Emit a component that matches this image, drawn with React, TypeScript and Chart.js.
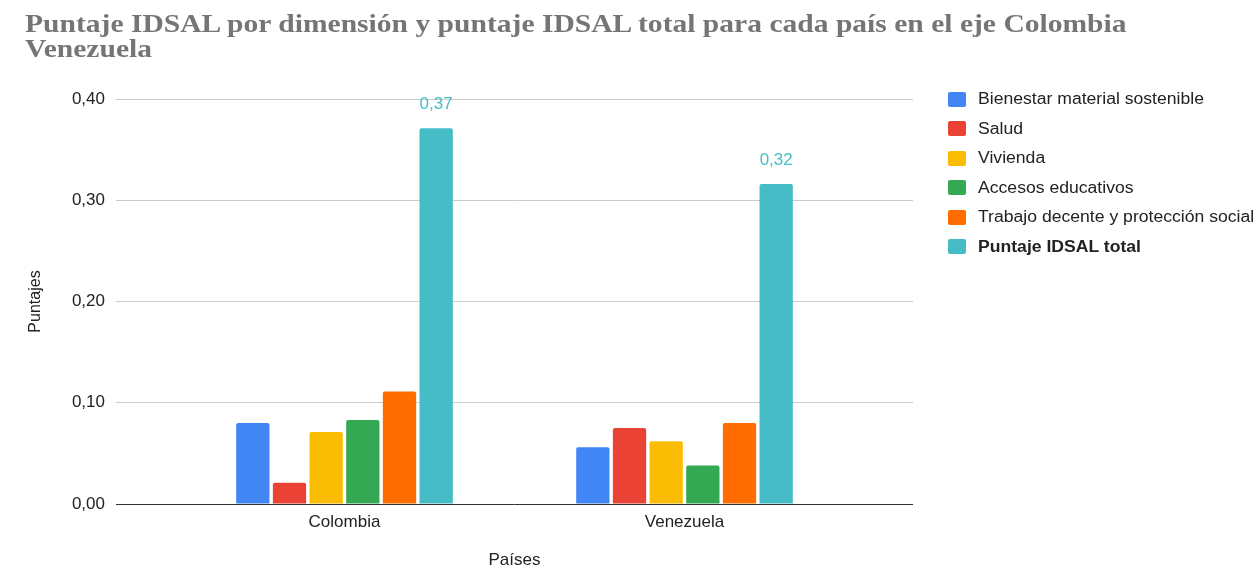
import React, { useEffect, useRef } from "react";
import { Chart, registerables } from "chart.js";

Chart.register(...registerables);

const TITLE_LINES = [
  "Puntaje IDSAL por dimensión y puntaje IDSAL total para cada país en el eje Colombia",
  "Venezuela",
];
const countries = ["Colombia", "Venezuela"];
const seriesNames = [
  "Bienestar material sostenible",
  "Salud",
  "Vivienda",
  "Accesos educativos",
  "Trabajo decente y protección social",
  "Puntaje IDSAL total",
];
const seriesColors = ["#4285F4", "#EA4335", "#FBBC04", "#34A853", "#FF6D01", "#46BDC6"];
const bienestar = [0.080, 0.056];
const salud = [0.021, 0.075];
const vivienda = [0.071, 0.062];
const accesos = [0.083, 0.038];
const trabajo = [0.111, 0.080];
const total = [0.371, 0.316];
const seriesValues = [bienestar, salud, vivienda, accesos, trabajo, total];
const yTicks = [0, 0.1, 0.2, 0.3, 0.4];
const yAxisTitle = "Puntajes";
const xAxisTitle = "Países";

const fmt = (v: number) => v.toFixed(2).replace(".", ",");
const FONT = "'Liberation Sans', Arial, sans-serif";

const totalLabels = {
  id: "totalLabels",
  afterDatasetsDraw(chart: any) {
    const ctx = chart.ctx;
    const idx = seriesValues.length - 1;
    const meta = chart.getDatasetMeta(idx);
    ctx.save();
    ctx.font = `17px ${FONT}`;
    ctx.fillStyle = seriesColors[idx];
    ctx.textAlign = "center";
    ctx.textBaseline = "middle";
    meta.data.forEach((el: any, i: number) => {
      ctx.fillText(fmt(seriesValues[idx][i]), el.x, el.y - 24);
    });
    ctx.restore();
  },
};

export default function App() {
  const ref = useRef<HTMLCanvasElement | null>(null);
  useEffect(() => {
    if (!ref.current) return;
    const chart = new Chart(ref.current, {
      type: "bar",
      data: {
        datasets: seriesNames.map((name, s) => ({
          label: name,
          data: countries.map((_, i) => ({ x: i, y: seriesValues[s][i] })),
          backgroundColor: seriesColors[s],
          borderRadius: { topLeft: 2, topRight: 2, bottomLeft: 0, bottomRight: 0 },
          borderSkipped: "bottom",
          categoryPercentage: 0.647,
          barPercentage: 0.908,
        })),
      },
      options: {
        responsive: false,
        animation: false,
        devicePixelRatio: 1,
        layout: { padding: { top: 99, right: 346, bottom: 0, left: 0 } },
        plugins: {
          legend: { display: false },
          title: { display: false },
          tooltip: { enabled: false },
        },
        scales: {
          x: {
            type: "linear",
            min: -0.672,
            max: 1.672,
            offset: false,
            grid: { display: false },
            border: { display: false },
            afterBuildTicks: (axis: any) => {
              axis.ticks = countries.map((_, i) => ({ value: i }));
            },
            afterFit: (axis: any) => {
              axis.height = 64;
            },
            ticks: {
              padding: 0,
              color: "#222",
              font: { family: FONT, size: 17 },
              maxRotation: 0,
              autoSkip: false,
              callback: (v: any) => countries[Math.round(Number(v))] ?? "",
            },
            title: {
              display: true,
              text: xAxisTitle,
              color: "#222",
              font: { family: FONT, size: 17 },
              padding: { top: 0, bottom: -3 },
            },
          },
          y: {
            min: 0,
            max: 0.4,
            afterBuildTicks: (axis: any) => {
              axis.ticks = yTicks.map((v) => ({ value: v }));
            },
            afterFit: (axis: any) => {
              axis.width = 116;
            },
            grid: {
              drawTicks: false,
              color: (c: any) => (c.tick && c.tick.value === 0 ? "#333333" : "#cccccc"),
              lineWidth: 1,
            },
            border: { display: false },
            ticks: {
              padding: 11,
              color: "#222",
              font: { family: FONT, size: 17 },
              callback: (v: any) => fmt(Number(v)),
            },
            title: {
              display: true,
              text: yAxisTitle,
              color: "#222",
              font: { family: FONT, size: 16 },
              padding: { top: 26, bottom: 0 },
            },
          },
        },
      } as any,
      plugins: [totalLabels],
    });
    return () => chart.destroy();
  }, []);

  return (
    <div style={{ position: "fixed", left: 0, top: 0, width: 1259, height: 568, background: "#fff", overflow: "hidden" }}>
      <canvas ref={ref} width={1259} height={568} style={{ position: "absolute", left: 0, top: 0 }} />
      <div
        style={{
          position: "absolute",
          left: 25,
          top: 11,
          fontFamily: "'Liberation Serif', 'Times New Roman', serif",
          fontWeight: "bold",
          fontSize: 26,
          lineHeight: "25px",
          color: "#757575",
          whiteSpace: "nowrap",
          transform: "scaleX(1.137)",
          transformOrigin: "left top",
        }}
      >
        {TITLE_LINES.map((t, i) => (
          <div key={i}>{t}</div>
        ))}
      </div>
      {seriesNames.map((name, i) => (
        <div
          key={name}
          style={{
            position: "absolute",
            left: 948,
            top: 99 + i * 29.5 - 9,
            height: 18,
            display: "flex",
            alignItems: "center",
            whiteSpace: "nowrap",
          }}
        >
          <div style={{ width: 18, height: 15, borderRadius: 2, background: seriesColors[i], flex: "none" }} />
          <div
            style={{
              marginLeft: 12,
              fontFamily: FONT,
              fontSize: 16,
              lineHeight: "18px",
              color: "#222",
              fontWeight: i === seriesNames.length - 1 ? "bold" : "normal",
              transform: "scaleX(1.1)",
              transformOrigin: "left center",
            }}
          >
            {name}
          </div>
        </div>
      ))}
    </div>
  );
}
